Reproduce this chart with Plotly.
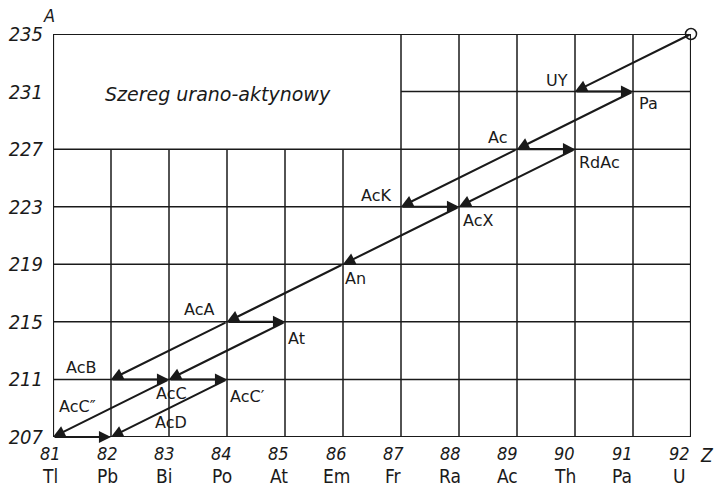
import plotly.graph_objects as go

# Data
Z_values = [81, 82, 83, 84, 85, 86, 87, 88, 89, 90, 91, 92]
elements = ["Tl", "Pb", "Bi", "Po", "At", "Em", "Fr", "Ra", "Ac", "Th", "Pa", "U"]
A_values = [207, 211, 215, 219, 223, 227, 231, 235]

# decay transitions: (Z_from, A_from, Z_to, A_to)
trans_from_Z = [92, 90, 91, 89, 89, 90, 87, 88, 86, 84, 84, 85, 82, 83, 83, 84, 81]
trans_from_A = [235, 231, 231, 227, 227, 227, 223, 223, 219, 215, 215, 215, 211, 211, 211, 211, 207]
trans_to_Z =   [90, 91, 89, 90, 87, 88, 88, 86, 84, 85, 82, 83, 83, 84, 81, 82, 82]
trans_to_A =   [231, 231, 227, 227, 223, 223, 223, 219, 215, 215, 211, 211, 211, 211, 207, 207, 207]

nuclide_names = ["AcU", "UY", "Pa", "Ac", "RdAc", "AcK", "AcX", "An", "AcA", "At",
                 "AcB", "AcC", "AcC′", "AcC″", "AcD"]
label_Z = [91.5, 89.69, 91.26, 88.67, 90.42, 86.57, 88.33, 86.22, 83.52, 85.19,
           81.48, 83.05, 84.36, 81.42, 83.03]
label_A = [236.0, 231.75, 230.15, 227.8, 226.1, 223.75, 222.05, 218.0, 215.85, 213.85,
           211.8, 210.0, 209.8, 209.1, 208.0]

title_text = "Szereg urano-aktynowy"
blank_Z_max = 87   # upper-left region without grid
blank_A_min = 227

FONT_C = "DejaVu Sans Condensed, Liberation Sans Narrow, DejaVu Sans, sans-serif"
FONT = "DejaVu Sans, sans-serif"
INK = "#1a1a1a"

fig = go.Figure()

# start nuclide marker (open circle)
fig.add_trace(go.Scatter(x=[trans_from_Z[0]], y=[trans_from_A[0]], mode="markers",
                         marker=dict(symbol="circle-open", size=11, color=INK,
                                     line=dict(width=1.5, color=INK)),
                         showlegend=False, hoverinfo="skip", cliponaxis=False))

shapes = []
zmin, zmax = Z_values[0], Z_values[-1]
amin, amax = A_values[0], A_values[-1]
for z in Z_values[1:-1]:
    top = amax if z >= blank_Z_max else blank_A_min
    shapes.append(dict(type="line", x0=z, x1=z, y0=amin, y1=top,
                       line=dict(color=INK, width=1.5), layer="below"))
for a in A_values[1:-1]:
    left = zmin if a <= blank_A_min else blank_Z_max
    shapes.append(dict(type="line", x0=left, x1=zmax, y0=a, y1=a,
                       line=dict(color=INK, width=1.5), layer="below"))
shapes.append(dict(type="rect", x0=zmin, x1=zmax, y0=amin, y1=amax,
                   line=dict(color=INK, width=2.2), layer="below"))

annotations = []
for z0, a0, z1, a1 in zip(trans_from_Z, trans_from_A, trans_to_Z, trans_to_A):
    annotations.append(dict(x=z1, y=a1, ax=z0, ay=a0, xref="x", yref="y",
                            axref="x", ayref="y", showarrow=True, text="",
                            arrowhead=2, arrowsize=1.15, arrowwidth=2.1,
                            arrowcolor=INK, standoff=0, startstandoff=0))
for name, z, a in zip(nuclide_names, label_Z, label_A):
    annotations.append(dict(x=z, y=a, xref="x", yref="y", text=name, showarrow=False,
                            font=dict(family=FONT, size=16,
                                      color="#8a8a8a" if name == "AcU" else INK),
                            xanchor="center", yanchor="middle"))
annotations.append(dict(x=83.84, y=230.8, xref="x", yref="y",
                        text="<i>" + title_text + "</i>", showarrow=False,
                        font=dict(family=FONT, size=19, color=INK),
                        xanchor="center", yanchor="middle"))
# x tick labels (number + element symbol)
for i, (z, e) in enumerate(zip(Z_values, elements)):
    sh = -3 - 0.8 * i
    annotations.append(dict(x=z, y=0, xref="x", yref="paper", text=f"<i>{z}</i>",
                            showarrow=False, xanchor="center", yanchor="top",
                            xshift=sh, yshift=-5, borderpad=0,
                            font=dict(family=FONT_C, size=18, color=INK)))
    annotations.append(dict(x=z, y=0, xref="x", yref="paper", text=e,
                            showarrow=False, xanchor="center", yanchor="top",
                            xshift=sh, yshift=-27, borderpad=0,
                            font=dict(family=FONT_C, size=19, color=INK)))
annotations.append(dict(x=0, y=1, xref="paper", yref="paper", text="<i>A</i>",
                        showarrow=False, xanchor="center", yanchor="bottom",
                        xshift=-4, yshift=6,
                        font=dict(family=FONT_C, size=18, color=INK)))
annotations.append(dict(x=1, y=0, xref="paper", yref="paper", text="<i>Z</i>",
                        showarrow=False, xanchor="left", yanchor="top",
                        xshift=7, yshift=-5,
                        font=dict(family=FONT_C, size=19, color=INK)))

fig.update_layout(
    width=717, height=490,
    margin=dict(l=53, r=26, t=34, b=53),
    paper_bgcolor="white", plot_bgcolor="white",
    shapes=shapes, annotations=annotations,
    showlegend=False,
    xaxis=dict(range=[zmin, zmax], showgrid=False, zeroline=False, showline=False,
               showticklabels=False, ticks="", automargin=False),
    yaxis=dict(range=[amin, amax], showgrid=False, zeroline=False, showline=False,
               tickvals=A_values, ticktext=[f"<i>{a}</i>" for a in A_values],
               tickfont=dict(family=FONT_C, size=20, color=INK), ticks="",
               ticklabelstandoff=9, automargin=False),
)

# remove the default page margin so the figure fills the window exactly
fig.write_html("out.html", config={"displayModeBar": False},
               post_script="document.body.style.margin='0';document.body.style.overflow='hidden';")
